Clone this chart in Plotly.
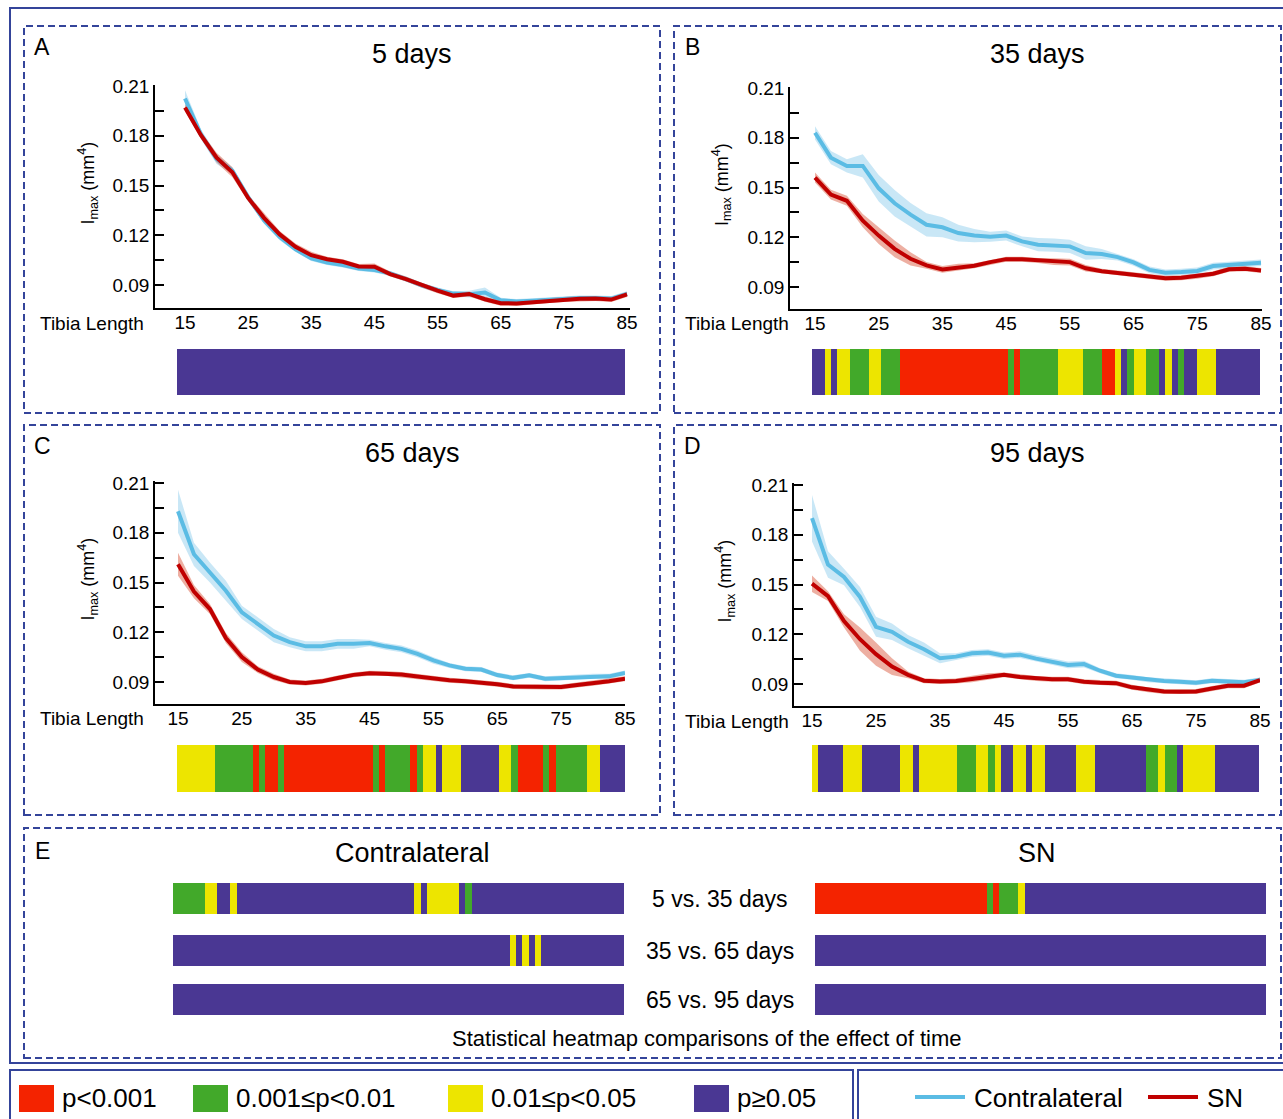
import plotly.graph_objects as go

W, H = 1283, 1119
FONT = "Arial, 'Liberation Sans', sans-serif"

# ---------------- data ----------------
tibia = [15, 17.5, 20, 22.5, 25, 27.5, 30, 32.5, 35, 37.5, 40, 42.5, 45, 47.5, 50,
         52.5, 55, 57.5, 60, 62.5, 65, 67.5, 70, 72.5, 75, 77.5, 80, 82.5, 85]

A_contra = [0.2025, 0.181, 0.166, 0.159, 0.143, 0.129, 0.119, 0.1115, 0.106, 0.1035, 0.102, 0.100, 0.099, 0.097, 0.0936,
            0.0898, 0.087, 0.0848, 0.0845, 0.0855, 0.0808, 0.080, 0.0805, 0.0812, 0.0818, 0.0822, 0.0822, 0.0818, 0.0847]
A_sn = [0.197, 0.1805, 0.1668, 0.158, 0.1425, 0.1305, 0.1205, 0.113, 0.108, 0.1055, 0.104, 0.1012, 0.101, 0.0966, 0.0936,
        0.0898, 0.0866, 0.0836, 0.0846, 0.0814, 0.079, 0.0789, 0.0797, 0.0806, 0.0812, 0.0817, 0.0818, 0.0812, 0.0843]
A_contra_sd = [0.005, 0.003, 0.003, 0.002, 0.002, 0.002, 0.002, 0.0015, 0.0015, 0.0015, 0.0015, 0.0015, 0.0015, 0.0015, 0.0015,
               0.0015, 0.0015, 0.0015, 0.002, 0.003, 0.0015, 0.0015, 0.0015, 0.0015, 0.0015, 0.0015, 0.0015, 0.0015, 0.0015]
A_sn_sd = [0.002, 0.002, 0.003, 0.003, 0.002, 0.003, 0.002, 0.002, 0.002, 0.0015, 0.0015, 0.0015, 0.002, 0.0015, 0.0015,
           0.0015, 0.0015, 0.0015, 0.0015, 0.0015, 0.0015, 0.0015, 0.0015, 0.0015, 0.0015, 0.0015, 0.0015, 0.0015, 0.0015]

B_contra = [0.183, 0.168, 0.163, 0.163, 0.1495, 0.1405, 0.1336, 0.1275, 0.126, 0.1225, 0.121, 0.1203, 0.121, 0.1175, 0.1155,
            0.1153, 0.1145, 0.1105, 0.1099, 0.108, 0.1048, 0.1003, 0.0986, 0.099, 0.0997, 0.1026, 0.1034, 0.1038, 0.1046]
B_sn = [0.156, 0.1457, 0.142, 0.130, 0.121, 0.113, 0.107, 0.103, 0.1006, 0.102, 0.1028, 0.105, 0.1068, 0.1067, 0.106,
        0.1053, 0.105, 0.1013, 0.0995, 0.0985, 0.0973, 0.0964, 0.0953, 0.0956, 0.0965, 0.098, 0.1007, 0.101, 0.100]
B_contra_sd = [0.004, 0.004, 0.004, 0.007, 0.008, 0.008, 0.007, 0.007, 0.006, 0.005, 0.004, 0.003, 0.003, 0.003, 0.004,
               0.004, 0.004, 0.004, 0.003, 0.002, 0.002, 0.002, 0.002, 0.002, 0.002, 0.002, 0.002, 0.002, 0.002]
B_sn_sd = [0.003, 0.003, 0.003, 0.004, 0.005, 0.005, 0.004, 0.002, 0.002, 0.002, 0.0015, 0.0015, 0.0015, 0.0015, 0.0015,
           0.002, 0.002, 0.002, 0.0015, 0.0015, 0.0015, 0.0015, 0.0015, 0.0015, 0.0015, 0.0015, 0.0015, 0.0015, 0.0015]

C_contra = [0.193, 0.167, 0.156, 0.145, 0.132, 0.125, 0.118, 0.114, 0.1115, 0.1115, 0.113, 0.113, 0.1135, 0.1115, 0.110,
            0.107, 0.103, 0.100, 0.098, 0.0975, 0.0942, 0.0925, 0.094, 0.092, 0.0925, 0.093, 0.0934, 0.0934, 0.0955]
C_sn = [0.161, 0.1445, 0.134, 0.1165, 0.105, 0.0975, 0.093, 0.090, 0.0894, 0.0904, 0.0924, 0.0943, 0.0953, 0.0952, 0.0945,
        0.0933, 0.0921, 0.091, 0.0905, 0.0898, 0.0887, 0.0873, 0.087, 0.087, 0.087, 0.0882, 0.0892, 0.0905, 0.092]
C_contra_sd = [0.013, 0.007, 0.006, 0.006, 0.004, 0.004, 0.004, 0.003, 0.003, 0.003, 0.003, 0.003, 0.002, 0.002, 0.002,
               0.002, 0.002, 0.0015, 0.0015, 0.0015, 0.0015, 0.0015, 0.0015, 0.0015, 0.0015, 0.0015, 0.0015, 0.0015, 0.0015]
C_sn_sd = [0.007, 0.004, 0.003, 0.003, 0.003, 0.002, 0.002, 0.0015, 0.0015, 0.0015, 0.0015, 0.0015, 0.0015, 0.0015, 0.0015,
           0.0015, 0.0015, 0.0015, 0.0015, 0.0015, 0.0015, 0.0015, 0.0015, 0.0015, 0.0015, 0.0015, 0.0015, 0.0015, 0.0015]

D_contra = [0.190, 0.162, 0.1545, 0.1425, 0.1245, 0.1215, 0.1155, 0.111, 0.1055, 0.1065, 0.1085, 0.109, 0.107, 0.1077, 0.1053,
            0.1035, 0.1015, 0.102, 0.098, 0.095, 0.094, 0.0925, 0.0918, 0.0913, 0.0908, 0.092, 0.0914, 0.091, 0.0924]
D_sn = [0.1505, 0.143, 0.128, 0.117, 0.108, 0.1005, 0.0955, 0.092, 0.0915, 0.0918, 0.093, 0.0945, 0.0955, 0.0942, 0.0933,
        0.0928, 0.0928, 0.0913, 0.0907, 0.0905, 0.088, 0.0865, 0.0855, 0.0854, 0.0855, 0.0873, 0.089, 0.089, 0.0924]
D_contra_sd = [0.014, 0.008, 0.005, 0.006, 0.006, 0.005, 0.004, 0.004, 0.003, 0.002, 0.002, 0.002, 0.002, 0.002, 0.002,
               0.002, 0.002, 0.002, 0.0015, 0.0015, 0.0015, 0.0015, 0.0015, 0.0015, 0.0015, 0.0015, 0.0015, 0.0015, 0.0015]
D_sn_sd = [0.005, 0.003, 0.004, 0.007, 0.007, 0.005, 0.002, 0.0015, 0.0015, 0.0015, 0.002, 0.002, 0.0015, 0.0015, 0.0015,
           0.0015, 0.0015, 0.0015, 0.0015, 0.0015, 0.0015, 0.0015, 0.0015, 0.0015, 0.0015, 0.0015, 0.0015, 0.0015, 0.0015]

# Heatmap significance per tibia position 15..85 (run-length encoded)
# codes: 0 = p>=0.05, 1 = 0.01<=p<0.05, 2 = 0.001<=p<0.01, 3 = p<0.001
heat_positions = list(range(15, 86))
A_heat_runs, A_heat_codes = [71], [0]
B_heat_runs = [2, 1, 1, 2, 3, 2, 3, 17, 1, 1, 6, 4, 3, 2, 1, 1, 1, 2, 2, 1, 1, 1, 1, 2, 3, 7]
B_heat_codes = [0, 1, 0, 1, 2, 1, 2, 3, 2, 3, 2, 1, 2, 3, 1, 0, 2, 1, 2, 0, 1, 0, 2, 0, 1, 0]
C_heat_runs = [6, 6, 1, 1, 2, 1, 14, 1, 1, 4, 1, 1, 2, 1, 3, 6, 2, 1, 4, 1, 1, 5, 2, 4]
C_heat_codes = [1, 2, 3, 2, 3, 2, 3, 2, 3, 2, 3, 2, 1, 0, 1, 0, 1, 2, 3, 2, 3, 2, 1, 0]
D_heat_runs = [1, 4, 3, 6, 2, 1, 6, 3, 2, 1, 1, 2, 2, 1, 2, 5, 3, 8, 2, 1, 2, 1, 5, 7]
D_heat_codes = [1, 0, 1, 0, 1, 0, 1, 2, 1, 2, 1, 0, 1, 0, 1, 0, 1, 0, 2, 1, 2, 0, 1, 0]

E_contra_5v35_runs = [5, 2, 2, 1, 28, 1, 1, 5, 1, 1, 24]
E_contra_5v35_codes = [2, 1, 0, 1, 0, 1, 0, 1, 0, 2, 0]
E_contra_35v65_runs = [53, 1, 1, 1, 1, 1, 13]
E_contra_35v65_codes = [0, 1, 0, 1, 0, 1, 0]
E_contra_65v95_runs, E_contra_65v95_codes = [71], [0]
E_sn_5v35_runs = [27, 1, 1, 3, 1, 38]
E_sn_5v35_codes = [3, 2, 3, 2, 1, 0]
E_sn_35v65_runs, E_sn_35v65_codes = [71], [0]
E_sn_65v95_runs, E_sn_65v95_codes = [71], [0]

y_tickvals = [0.09, 0.12, 0.15, 0.18, 0.21]
y_minor = [0.105, 0.135, 0.165, 0.195]
x_tickvals = [15, 25, 35, 45, 55, 65, 75, 85]
legend_labels = ["p<0.001", "0.001≤p<0.01", "0.01≤p<0.05", "p≥0.05"]
comparison_labels = ["5 vs. 35 days", "35 vs. 65 days", "65 vs. 95 days"]

# ---------------- styles ----------------
C_RED, C_GREEN, C_YELLOW, C_PURPLE = "#F42300", "#42A92A", "#EDE500", "#4A3793"
BLUE_LINE, BLUE_FILL = "#5BBCE4", "rgba(120,195,232,0.40)"
RED_LINE, RED_FILL = "#C00000", "rgba(222,110,85,0.55)"
NAVY = "#34449A"

colorscale = [[0, C_PURPLE], [0.25, C_PURPLE], [0.25, C_YELLOW], [0.5, C_YELLOW],
              [0.5, C_GREEN], [0.75, C_GREEN], [0.75, C_RED], [1, C_RED]]


def xdom(x0, x1):
    return [x0 / W, x1 / W]


def ydom(top, bottom):
    return [1 - bottom / H, 1 - top / H]


def expand(runs, codes):
    out = []
    for r, c in zip(runs, codes):
        out.extend([c] * r)
    return out


fig = go.Figure()
layout = dict(template="none", width=W, height=H, autosize=False,
              margin=dict(l=0, r=0, t=0, b=0, pad=0),
              paper_bgcolor="white", plot_bgcolor="white", showlegend=False,
              font=dict(family=FONT, color="black"))
annotations = []
shapes = []

panels = [
    dict(letter="A", title="5 days", contra=A_contra, sn=A_sn, csd=A_contra_sd, ssd=A_sn_sd,
         left=155, right=630, top=85, bottom=308, x15=185, x85=627, y21=86, y09=285,
         heat=(177, 625, 349, 395), runs=A_heat_runs, codes=A_heat_codes,
         box=(24, 26, 660, 413), ytitle_x=88, tl_x=92, title_x=412),
    dict(letter="B", title="35 days", contra=B_contra, sn=B_sn, csd=B_contra_sd, ssd=B_sn_sd,
         left=790, right=1262, top=87, bottom=309, x15=815, x85=1261, y21=88, y09=287,
         heat=(812, 1260, 349, 395), runs=B_heat_runs, codes=B_heat_codes,
         box=(674, 26, 1281, 413), ytitle_x=722, tl_x=737, title_x=1037),
    dict(letter="C", title="65 days", contra=C_contra, sn=C_sn, csd=C_contra_sd, ssd=C_sn_sd,
         left=155, right=625, top=481, bottom=704, x15=178, x85=625, y21=483, y09=682,
         heat=(177, 625, 745, 792), runs=C_heat_runs, codes=C_heat_codes,
         box=(24, 425, 660, 815), ytitle_x=88, tl_x=92, title_x=412),
    dict(letter="D", title="95 days", contra=D_contra, sn=D_sn, csd=D_contra_sd, ssd=D_sn_sd,
         left=794, right=1260, top=483, bottom=706, x15=812, x85=1260, y21=485, y09=684,
         heat=(812, 1259, 745, 792), runs=D_heat_runs, codes=D_heat_codes,
         box=(674, 425, 1281, 815), ytitle_x=725, tl_x=737, title_x=1037),
]

ax = 0
for p in panels:
    ax += 1
    xa, ya = f"x{ax}", f"y{ax}"
    kx = 70.0 / (p["x85"] - p["x15"])
    ky = 0.12 / (p["y09"] - p["y21"])
    xr = [15 - (p["x15"] - p["left"]) * kx, 85 + (p["right"] - p["x85"]) * kx]
    yr = [0.09 - (p["bottom"] - p["y09"]) * ky, 0.21 + (p["y21"] - p["top"]) * ky]
    for series, sd, fill in ((p["contra"], p["csd"], BLUE_FILL), (p["sn"], p["ssd"], RED_FILL)):
        upper = [v + s for v, s in zip(series, sd)]
        lower = [v - s for v, s in zip(series, sd)]
        fig.add_trace(go.Scatter(x=tibia + tibia[::-1], y=upper + lower[::-1], fill="toself",
                                 fillcolor=fill, line=dict(width=0), mode="lines",
                                 hoverinfo="skip", xaxis=xa, yaxis=ya))
    fig.add_trace(go.Scatter(x=tibia, y=p["contra"], mode="lines", name="Contralateral",
                             line=dict(color=BLUE_LINE, width=4), xaxis=xa, yaxis=ya))
    fig.add_trace(go.Scatter(x=tibia, y=p["sn"], mode="lines", name="SN",
                             line=dict(color=RED_LINE, width=4), xaxis=xa, yaxis=ya))
    sx = "" if ax == 1 else str(ax)
    layout["xaxis" + sx] = dict(domain=xdom(p["left"], p["right"]), range=xr, anchor=ya,
                                automargin=False, ticklabelstandoff=-4,
                                showline=True, linecolor="black", linewidth=1.5,
                                ticks="", tickvals=x_tickvals, showgrid=False, zeroline=False,
                                tickfont=dict(size=19, family=FONT))
    layout["yaxis" + sx] = dict(domain=ydom(p["top"], p["bottom"]), range=yr, anchor=xa,
                                automargin=False,
                                showline=True, linecolor="black", linewidth=1.5,
                                ticks="inside", ticklen=9, tickwidth=1.5, tickcolor="black",
                                tickvals=y_tickvals, ticktext=[f"{v:.2f}" for v in y_tickvals],
                                minor=dict(ticks="inside", ticklen=9, tickwidth=1.5,
                                           tickcolor="black", tickvals=y_minor),
                                showgrid=False, zeroline=False,
                                tickfont=dict(size=19, family=FONT))
    bx0, by0, bx1, by1 = p["box"]
    annotations.append(dict(x=(bx0 + 18) / W, y=1 - (by0 + 21) / H, text=p["letter"], showarrow=False,
                            xref="paper", yref="paper", font=dict(size=23), xanchor="center", yanchor="middle"))
    annotations.append(dict(x=p["title_x"] / W, y=1 - (by0 + 28) / H, text=p["title"],
                            showarrow=False, xref="paper", yref="paper", font=dict(size=27),
                            xanchor="center", yanchor="middle"))
    annotations.append(dict(x=p["ytitle_x"] / W, y=1 - ((p["top"] + p["bottom"]) / 2 - 13) / H,
                            text="I<sub>max</sub> (mm<sup>4</sup>)", textangle=-90, showarrow=False,
                            xref="paper", yref="paper", font=dict(size=18), xanchor="center", yanchor="middle"))
    annotations.append(dict(x=p["tl_x"] / W, y=1 - (p["bottom"] + 15) / H, text="Tibia Length",
                            showarrow=False, xref="paper", yref="paper", font=dict(size=19),
                            xanchor="center", yanchor="middle"))
    shapes.append(dict(type="rect", xref="paper", yref="paper", x0=bx0 / W, x1=bx1 / W,
                       y0=1 - by1 / H, y1=1 - by0 / H, line=dict(color=NAVY, width=2, dash="7px,4px")))

# heatmaps
heat_specs = [(p["heat"], p["runs"], p["codes"]) for p in panels]
e_rows = [(883, 914), (935, 966), (984, 1015)]
e_contra = [(E_contra_5v35_runs, E_contra_5v35_codes), (E_contra_35v65_runs, E_contra_35v65_codes),
            (E_contra_65v95_runs, E_contra_65v95_codes)]
e_sn = [(E_sn_5v35_runs, E_sn_5v35_codes), (E_sn_35v65_runs, E_sn_35v65_codes),
        (E_sn_65v95_runs, E_sn_65v95_codes)]
for (t, b), (cr, cc), (sr, sc) in zip(e_rows, e_contra, e_sn):
    heat_specs.append(((173, 624, t, b), cr, cc))
    heat_specs.append(((815, 1266, t, b), sr, sc))

for (x0, x1, t, b), runs, codes in heat_specs:
    ax += 1
    xa, ya = f"x{ax}", f"y{ax}"
    fig.add_trace(go.Heatmap(z=[expand(runs, codes)], x=heat_positions, zmin=-0.5, zmax=3.5,
                             colorscale=colorscale, showscale=False, xaxis=xa, yaxis=ya,
                             xgap=0, ygap=0))
    layout["xaxis" + str(ax)] = dict(domain=xdom(x0, x1), range=[14.5, 85.5], visible=False,
                                     automargin=False, anchor=ya, fixedrange=True)
    layout["yaxis" + str(ax)] = dict(domain=ydom(t, b), range=[-0.5, 0.5], visible=False,
                                     automargin=False, anchor=xa, fixedrange=True)

# panel E
shapes.append(dict(type="rect", xref="paper", yref="paper", x0=24 / W, x1=1281 / W,
                   y0=1 - 1058 / H, y1=1 - 828 / H, line=dict(color=NAVY, width=2, dash="7px,4px")))
annotations.append(dict(x=42 / W, y=1 - 851 / H, text="E", showarrow=False, xref="paper", yref="paper",
                        font=dict(size=23), xanchor="center", yanchor="middle"))
annotations.append(dict(x=412 / W, y=1 - 853 / H, text="Contralateral", showarrow=False, xref="paper",
                        yref="paper", font=dict(size=27), xanchor="center", yanchor="middle"))
annotations.append(dict(x=1037 / W, y=1 - 853 / H, text="SN", showarrow=False, xref="paper",
                        yref="paper", font=dict(size=27), xanchor="center", yanchor="middle"))
for lab, (t, b) in zip(comparison_labels, e_rows):
    annotations.append(dict(x=720 / W, y=1 - (t + b) / 2 / H, text=lab, showarrow=False, xref="paper",
                            yref="paper", font=dict(size=23), xanchor="center", yanchor="middle"))
annotations.append(dict(x=707 / W, y=1 - 1038 / H, text="Statistical heatmap comparisons of the effect of time",
                        showarrow=False, xref="paper", yref="paper", font=dict(size=22),
                        xanchor="center", yanchor="middle"))

# outer frame and legend boxes
shapes.append(dict(type="rect", xref="paper", yref="paper", x0=10 / W, x1=1290 / W,
                   y0=1 - 1063 / H, y1=1 - 8 / H, line=dict(color=NAVY, width=2)))
shapes.append(dict(type="rect", xref="paper", yref="paper", x0=10 / W, x1=853 / W,
                   y0=1 - 1125 / H, y1=1 - 1070 / H, line=dict(color=NAVY, width=2)))
shapes.append(dict(type="rect", xref="paper", yref="paper", x0=858 / W, x1=1290 / W,
                   y0=1 - 1125 / H, y1=1 - 1070 / H, line=dict(color=NAVY, width=2)))

# legend (significance)
sw_colors = [C_RED, C_GREEN, C_YELLOW, C_PURPLE]
sw_x = [19, 193, 448, 694]
for col, x0, lab in zip(sw_colors, sw_x, legend_labels):
    shapes.append(dict(type="rect", xref="paper", yref="paper", x0=x0 / W, x1=(x0 + 35) / W,
                       y0=1 - 1112 / H, y1=1 - 1085 / H, fillcolor=col, line=dict(width=0)))
    annotations.append(dict(x=(x0 + 41) / W, y=1 - 1098 / H, text=lab, showarrow=False, xref="paper",
                            yref="paper", font=dict(size=26), xanchor="left", yanchor="middle"))
# legend (lines)
for col, x0, lab in ((BLUE_LINE, 915, "Contralateral"), (RED_LINE, 1148, "SN")):
    shapes.append(dict(type="line", xref="paper", yref="paper", x0=x0 / W, x1=(x0 + 50) / W,
                       y0=1 - 1097 / H, y1=1 - 1097 / H, line=dict(color=col, width=4)))
    annotations.append(dict(x=(x0 + 57) / W, y=1 - 1098 / H, text=lab, showarrow=False, xref="paper",
                            yref="paper", font=dict(size=26), xanchor="left", yanchor="middle"))

layout["annotations"] = annotations
layout["shapes"] = shapes
fig.update_layout(**layout)
fig.write_html("out.html", config={"displayModeBar": False})
